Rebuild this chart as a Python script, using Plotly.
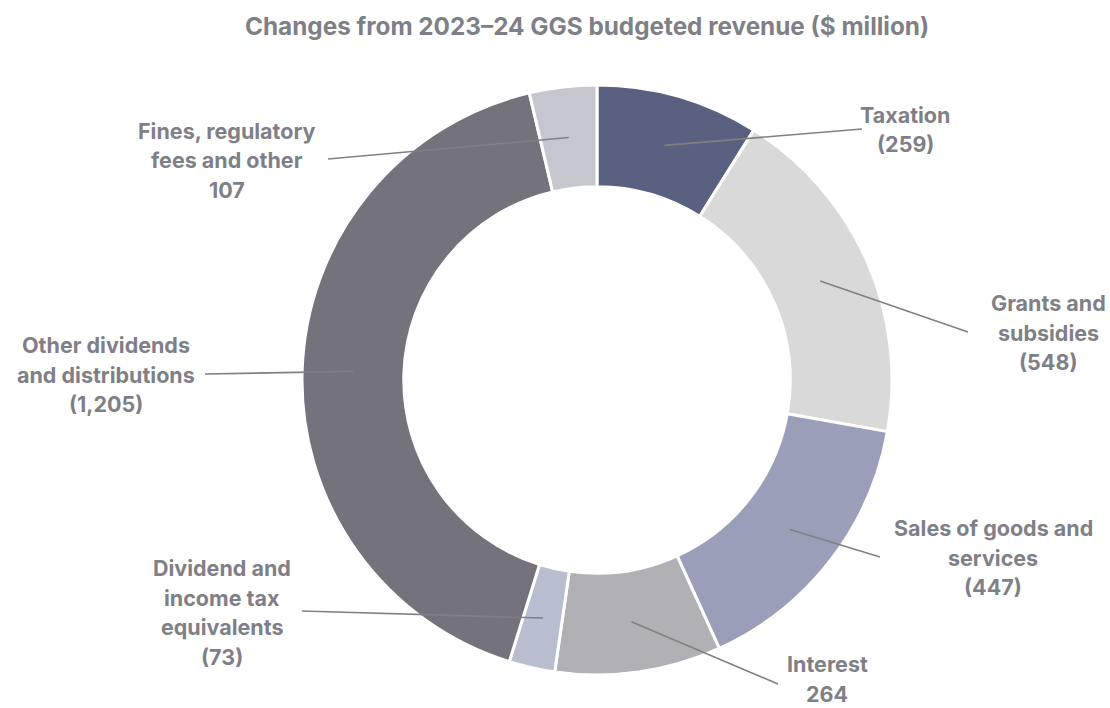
import math
import plotly.graph_objects as go

# Changes from 2023-24 GGS budgeted revenue ($ million); sign shown in labels
categories = [
    "Taxation",
    "Grants and subsidies",
    "Sales of goods and services",
    "Interest",
    "Dividend and income tax equivalents",
    "Other dividends and distributions",
    "Fines, regulatory fees and other",
]
values = [259, 548, 447, 264, 73, 1205, 107]
negative = [True, True, True, False, True, True, False]
label_lines = [
    ["Taxation"],
    ["Grants and", "subsidies"],
    ["Sales of goods and", "services"],
    ["Interest"],
    ["Dividend and", "income tax", "equivalents"],
    ["Other dividends", "and distributions"],
    ["Fines, regulatory", "fees and other"],
]
colors = ["#5a607f", "#d9d9d9", "#9a9eb8", "#b1b0b5", "#b9bdd0", "#74737c", "#c6c6ce"]

W, H = 1110, 708
CX, CY, R = 597, 380, 295
HOLE = 0.655
R_MID = R * (1 + HOLE) / 2

# label block centre x, first-line y, and leader line end point (pixels)
label_pos = [
    (905, 115, 862, 129),
    (1048, 303, 968, 332),
    (993, 528, 880, 557),
    (827, 664, 778, 684),
    (222, 568, 302, 611),
    (106, 345, 205, 374),
    (227, 131, 328, 159),
]
LINE_GAP = 29.5
TEXT_COLOR = "#7f7f87"
FONT = "Inter"


def px_to_paper(x, y):
    return x / W, 1 - y / H


def fmt(v, neg):
    s = f"{v:,}"
    return f"({s})" if neg else s


fig = go.Figure(
    go.Pie(
        labels=categories,
        values=values,
        hole=HOLE,
        sort=False,
        direction="clockwise",
        rotation=0,
        marker=dict(colors=colors, line=dict(color="white", width=3)),
        textinfo="none",
        hoverinfo="label+value",
        domain=dict(
            x=[(CX - R) / W, (CX + R) / W],
            y=[1 - (CY + R) / H, 1 - (CY - R) / H],
        ),
        showlegend=False,
    )
)

total = sum(values)
cum = 0
shapes, annotations = [], []
for i, v in enumerate(values):
    mid = (cum + v / 2) / total * 2 * math.pi
    cum += v
    sx = CX + R_MID * math.sin(mid)
    sy = CY - R_MID * math.cos(mid)
    tx, ty, ex, ey = label_pos[i]
    x0, y0 = px_to_paper(sx, sy)
    x1, y1 = px_to_paper(ex, ey)
    shapes.append(dict(type="line", xref="paper", yref="paper", x0=x0, y0=y0,
                       x1=x1, y1=y1, line=dict(color="#808080", width=1.6)))
    lines = label_lines[i] + [fmt(v, negative[i])]
    for j, txt in enumerate(lines):
        ax, ay = px_to_paper(tx, ty + j * LINE_GAP)
        annotations.append(dict(
            x=ax, y=ay, xref="paper", yref="paper", text=f"<b>{txt}</b>",
            showarrow=False, xanchor="center", yanchor="middle",
            borderpad=0,
            font=dict(family=FONT, size=21.5, color=TEXT_COLOR),
        ))

annotations.append(dict(
    x=587 / W, y=1 - 26 / H, xref="paper", yref="paper",
    text="<b>Changes from 2023–24 GGS budgeted revenue ($ million)</b>",
    showarrow=False, xanchor="center", yanchor="middle",
    font=dict(family="Inter", size=24.3, color=TEXT_COLOR),
))

fig.update_layout(
    width=W, height=H,
    margin=dict(l=0, r=0, t=0, b=0),
    paper_bgcolor="white", plot_bgcolor="white",
    shapes=shapes, annotations=annotations,
)

fig.write_html("out.html")
